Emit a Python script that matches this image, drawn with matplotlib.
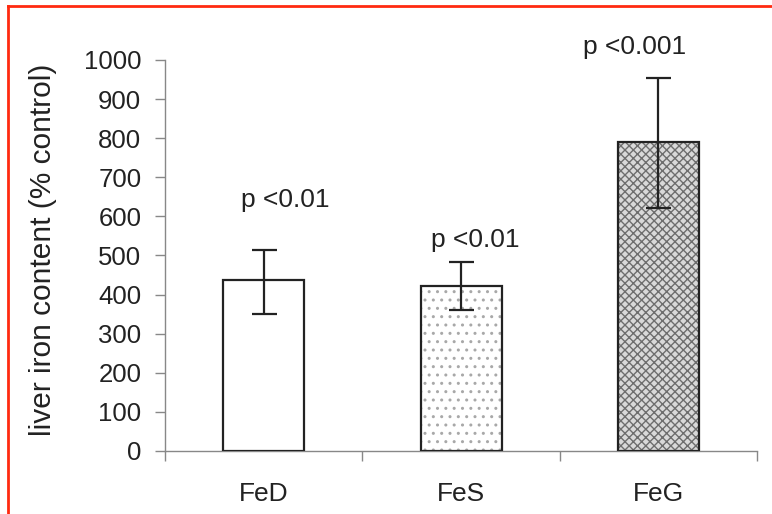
import numpy as np
import matplotlib.pyplot as plt
from matplotlib.lines import Line2D

plt.rcParams['font.family'] = ['Liberation Sans', 'DejaVu Sans']

groups = ['FeD', 'FeS', 'FeG']
iron = [437, 422, 791]
err_low = [87, 62, 169]
err_high = [77, 62, 164]
p_text = ['p <0.01', 'p <0.01', 'p <0.001']
p_x = [0.11, 1.07, 1.88]
p_y = [642, 540, 1033]

fig = plt.figure(figsize=(7.72, 5.14), dpi=100)
ax = fig.add_axes([0.2137, 0.1226, 0.767, 0.7607])

x = np.arange(len(groups))
w = 0.41
faces = ['white', 'white', '#d9d9d9']
hatches = [None, '..', 'xxxx']
hcols = ['white', '#a8a8a8', '#6e6e6e']
for i in range(len(groups)):
    ax.bar(x[i], iron[i], w, color=faces[i], hatch=hatches[i],
           edgecolor=hcols[i], linewidth=0, zorder=2)
ax.bar(x, iron, w, color='none', edgecolor='#222222', linewidth=1.6, zorder=3)
ax.errorbar(x, iron, yerr=[err_low, err_high], fmt='none', ecolor='#222222',
            elinewidth=1.6, capsize=9, capthick=1.6, zorder=4)

for i in range(len(groups)):
    ax.text(p_x[i], p_y[i], p_text[i], ha='center', va='center',
            fontsize=19, color='#222222', clip_on=False)

ax.set_xlim(-0.5, 2.5)
ax.set_ylim(0, 1000)
ax.set_yticks(range(0, 1001, 100))
ax.set_xticks([-0.5, 0.5, 1.5, 2.5])
ax.set_xticklabels([])
ax.set_xticks(x, minor=True)
ax.set_xticklabels(groups, minor=True)
ax.tick_params(axis='x', which='minor', length=0, pad=22, labelsize=19,
               labelcolor='#222222')
ax.tick_params(axis='x', which='major', length=7, color='#888888', width=1)
ax.tick_params(axis='y', length=7, color='#888888', width=1, labelsize=18.5,
               labelcolor='#222222', pad=10)
for s in ['top', 'right']:
    ax.spines[s].set_visible(False)
for s in ['left', 'bottom']:
    ax.spines[s].set_color('#888888')
    ax.spines[s].set_linewidth(1)
ax.set_ylabel('liver iron content (% control)', fontsize=21.5, color='#222222')
ax.yaxis.set_label_coords(-0.206, 0.514)
ax.yaxis.label.set_va('center')

red = '#ff2a10'
fig.add_artist(Line2D([8 / 772, 8 / 772], [0, 1 - 6 / 514], color=red, lw=2,
                      transform=fig.transFigure))
fig.add_artist(Line2D([8 / 772, 1], [1 - 6 / 514, 1 - 6 / 514], color=red, lw=2,
                      transform=fig.transFigure))

fig.savefig('out.png', dpi=100)
